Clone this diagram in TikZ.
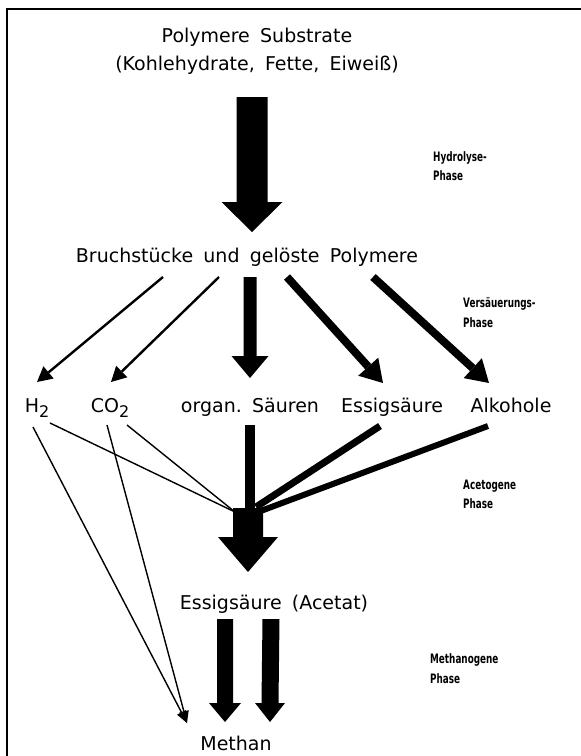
\documentclass[tikz,border=0pt]{standalone}
\usepackage{fontspec}
\setmainfont{DejaVu Sans}[WordSpace=1.7]
\newfontfamily\phasefont{DejaVu Sans}[FakeStretch=0.68]
\usetikzlibrary{arrows.meta,calc}
\newcommand\mysub[1]{\raisebox{-0.5ex}{\fontsize{16}{16}\selectfont #1}}
% vertical block arrow: #1 top, #2 tip, #3 half shaft, #4 half head, #5 head length
\newcommand\vfatarrow[5]{%
  \fill ($(#1)+(-#3,0)$) -- ($(#1)+(#3,0)$) -- ($(#2)+(#3,-#5)$) -- ($(#2)+(#4,-#5)$)
     -- (#2) -- ($(#2)+(-#4,-#5)$) -- ($(#2)+(-#3,-#5)$) -- cycle;}
\begin{document}
\begin{tikzpicture}[x=1pt,y=-1pt,
  lbl/.style={font=\fontsize{19}{21}\selectfont, inner sep=0pt, anchor=base},
  phaselbl/.style={font=\phasefont\bfseries\fontsize{13}{15}\selectfont, inner sep=0pt, anchor=base west},
  thinarr/.style={line width=2.4pt, -{Triangle[length=15pt,width=16pt,line width=0pt]}},
  boldarr/.style={line width=8pt, -{Triangle[length=22pt,width=27pt,line width=0pt]}},
  hair/.style={line width=1.4pt},
  hairarr/.style={line width=1.4pt, -{Triangle[length=12pt,width=10pt,line width=0pt]}},
  feed/.style={line width=7pt}
]
\fill[white] (0,0) rectangle (581,756);
\useasboundingbox (0,0) rectangle (581,756);
% frame (top and left edge of the scan)
\draw[line width=2.5pt] (7,756) -- (7,9) -- (581,9);

% texts
\node[lbl] (poly) at (257,42) {Polymere Substrate};
\node[lbl] (kohle) at (257,70) {(Kohlehydrate, Fette, Eiweiß)};
\node[lbl] (bruch) at (247,262) {Bruchstücke und gelöste Polymere};
\node[lbl] (h2) at (37,412) {H\mysub{2}};
\node[lbl] (co2) at (110,412) {CO\mysub{2}};
\node[lbl] (org) at (250,412) {organ.\ Säuren};
\node[lbl] (essig) at (392,412) {Essigsäure};
\node[lbl] (alk) at (511,412) {Alkohole};
\node[lbl] (acetat) at (274,609) {Essigsäure (Acetat)};
\node[lbl] (methan) at (236,750) {Methan};

\node[phaselbl] (hyd1) at (433,161) {Hydrolyse-};
\node[phaselbl] (hyd2) at (433,180) {Phase};
\node[phaselbl] (ver1) at (463,307) {Versäuerungs-};
\node[phaselbl] (ver2) at (463,327) {Phase};
\node[phaselbl] (ace1) at (463,489) {Acetogene};
\node[phaselbl] (ace2) at (463,508) {Phase};
\node[phaselbl] (met1) at (430,663) {Methanogene};
\node[phaselbl] (met2) at (430,683) {Phase};

% hydrolysis arrow
\coordinate (hydS) at (252,97);
\coordinate (hydE) at (252,232);
\vfatarrow{hydS}{hydE}{15.5}{30.5}{30}

% acidification arrows
\coordinate (bH) at (163,277);
\coordinate (bC) at (219,277);
\coordinate (bO) at (250,277);
\coordinate (bE) at (287,277);
\coordinate (bA) at (373,277);
\coordinate (tH) at (37,382);
\coordinate (tC) at (111,382);
\coordinate (tO) at (250,378);
\coordinate (tE) at (383,383);
\coordinate (tA) at (489,383);
\draw[thinarr] (bH) -- (tH);
\draw[thinarr] (bC) -- (tC);
\vfatarrow{bO}{tO}{6.5}{18.5}{22}
\draw[boldarr] (bE) -- (tE);
\draw[boldarr] (bA) -- (tA);

% acetogenic phase
\coordinate (hA) at (33,427);
\coordinate (hB) at (50,423);
\coordinate (cA) at (107,425);
\coordinate (cB) at (127,425);
\coordinate (oS) at (250,425);
\coordinate (eS) at (380,426);
\coordinate (aS) at (488,426);
\coordinate (conv) at (235,512);
\coordinate (convR) at (256,507);
\coordinate (convR2) at (258,512);
\coordinate (mTip) at (187,723);
\draw[hair] (hB) -- (conv);
\draw[hair] (cB) -- (conv);
\draw[hairarr] (hA) -- (mTip);
\draw[hairarr] (cA) -- (mTip);
\fill ($(oS)+(-5,0)$) rectangle ($(oS)+(5,88)$);
\draw[feed] (eS) -- (convR);
\draw[line width=6pt] (aS) -- (convR2);
\coordinate (acS) at (248,508);
\coordinate (acE) at (248,572);
\vfatarrow{acS}{acE}{15}{30}{35}

% methanogenic phase
\coordinate (m1S) at (225,619);
\coordinate (m1E) at (225,722);
\coordinate (m2S) at (271,619);
\coordinate (m2E) at (270,722);
\vfatarrow{m1S}{m1E}{8}{16}{19}
\vfatarrow{m2S}{m2E}{8.5}{15}{19}
\end{tikzpicture}
\end{document}
